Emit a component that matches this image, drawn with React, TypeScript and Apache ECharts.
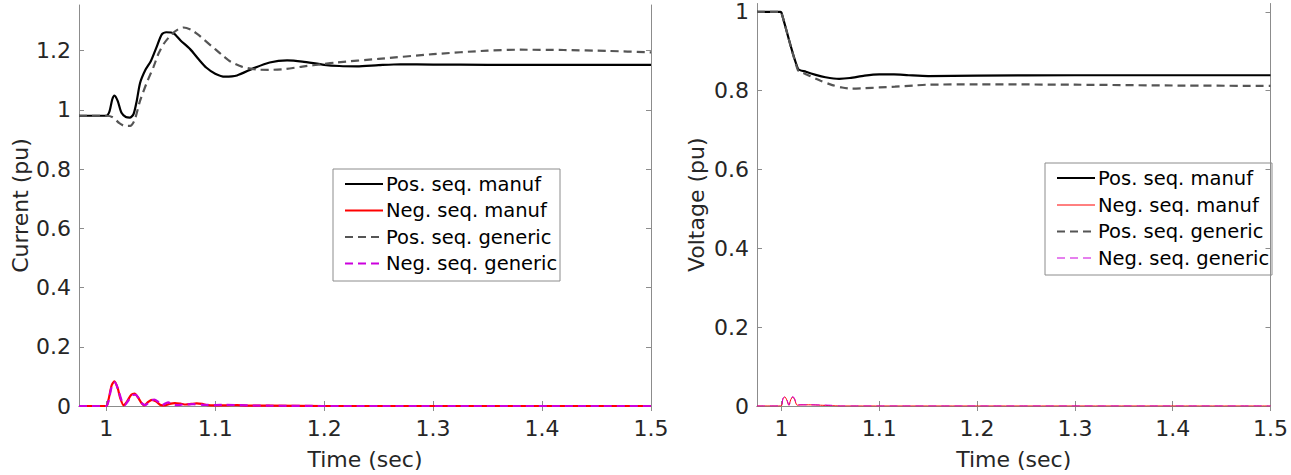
import React, { useEffect, useRef } from "react";
import * as echarts from "echarts";

// ---------- data ----------
const xTicks = [1, 1.1, 1.2, 1.3, 1.4, 1.5];
const yTicksCurrent = [0, 0.2, 0.4, 0.6, 0.8, 1, 1.2];
const yTicksVoltage = [0, 0.2, 0.4, 0.6, 0.8, 1];
const legendNames = ["Pos. seq. manuf", "Neg. seq. manuf", "Pos. seq. generic", "Neg. seq. generic"];

// Current plot
const curPosManufT = [0.975, 1.0, 1.003, 1.0055, 1.0076, 1.0105, 1.014, 1.018, 1.0216, 1.025, 1.028, 1.031, 1.036, 1.041, 1.046, 1.051, 1.055, 1.062, 1.068, 1.077, 1.085, 1.092, 1.1, 1.109, 1.12, 1.135, 1.15, 1.166, 1.18, 1.2, 1.214, 1.23, 1.25, 1.27, 1.3, 1.35, 1.4, 1.45, 1.5];
const curPosManufV = [0.98, 0.98, 0.995, 1.035, 1.048, 1.03, 0.99, 0.976, 0.974, 0.985, 1.03, 1.09, 1.135, 1.165, 1.21, 1.255, 1.262, 1.258, 1.235, 1.205, 1.17, 1.142, 1.122, 1.112, 1.116, 1.14, 1.16, 1.167, 1.163, 1.152, 1.148, 1.147, 1.151, 1.154, 1.153, 1.152, 1.152, 1.152, 1.152];

const curPosGenT = [0.975, 1.0, 1.006, 1.012, 1.017, 1.022, 1.026, 1.031, 1.037, 1.0435, 1.048, 1.053, 1.06, 1.066, 1.071, 1.078, 1.085, 1.09, 1.1, 1.108, 1.114, 1.125, 1.138, 1.15, 1.165, 1.18, 1.2, 1.211, 1.25, 1.3, 1.35, 1.38, 1.42, 1.46, 1.5];
const curPosGenV = [0.98, 0.98, 0.975, 0.955, 0.946, 0.946, 0.965, 1.03, 1.09, 1.146, 1.19, 1.224, 1.255, 1.272, 1.278, 1.27, 1.252, 1.236, 1.205, 1.18, 1.163, 1.145, 1.136, 1.135, 1.138, 1.146, 1.155, 1.16, 1.172, 1.188, 1.2, 1.203, 1.202, 1.199, 1.194];

const curNegManufT = [0.975, 1.0, 1.002, 1.005, 1.0075, 1.0105, 1.013, 1.016, 1.019, 1.023, 1.026, 1.029, 1.032, 1.035, 1.038, 1.042, 1.046, 1.05, 1.054, 1.058, 1.063, 1.068, 1.073, 1.078, 1.083, 1.088, 1.093, 1.1, 1.11, 1.12, 1.13, 1.15, 1.2, 1.5];
const curNegManufV = [0, 0, 0.02, 0.07, 0.083, 0.06, 0.025, 0.002, 0.015, 0.038, 0.042, 0.03, 0.012, 0.002, 0.012, 0.021, 0.015, 0.003, 0.002, 0.007, 0.01, 0.008, 0.005, 0.007, 0.009, 0.007, 0.003, 0.002, 0.002, 0.003, 0.001, 0.001, 0, 0];

const curNegGenT = [0.975, 1.0, 1.002, 1.005, 1.008, 1.011, 1.014, 1.017, 1.02, 1.024, 1.027, 1.03, 1.033, 1.036, 1.04, 1.044, 1.048, 1.051, 1.054, 1.057, 1.06, 1.065, 1.07, 1.08, 1.09, 1.1, 1.11, 1.13, 1.15, 1.2, 1.5];
const curNegGenV = [0, 0, 0.015, 0.065, 0.08, 0.055, 0.02, 0.003, 0.017, 0.037, 0.038, 0.025, 0.008, 0.003, 0.015, 0.022, 0.013, 0.003, 0.008, 0.012, 0.006, 0.003, 0.005, 0.006, 0.004, 0.003, 0.004, 0.002, 0.001, 0, 0];

// Voltage plot
const volPosManufT = [0.975, 0.999, 1.0, 1.0168, 1.025, 1.035, 1.045, 1.059, 1.07, 1.085, 1.1, 1.115, 1.13, 1.15, 1.2, 1.3, 1.4, 1.5];
const volPosManufV = [1.0, 1.0, 0.998, 0.856, 0.848, 0.84, 0.834, 0.83, 0.832, 0.838, 0.841, 0.841, 0.839, 0.837, 0.838, 0.839, 0.839, 0.839];

const volPosGenT = [0.975, 0.999, 1.0, 1.0168, 1.022, 1.029, 1.04, 1.052, 1.062, 1.072, 1.085, 1.1, 1.116, 1.135, 1.149, 1.2, 1.3, 1.4, 1.5];
const volPosGenV = [1.0, 1.0, 0.998, 0.852, 0.845, 0.837, 0.825, 0.814, 0.808, 0.805, 0.806, 0.808, 0.81, 0.813, 0.815, 0.816, 0.815, 0.813, 0.812];

const volNegManufT = [0.975, 0.9995, 1.0015, 1.0035, 1.0055, 1.0075, 1.0095, 1.0115, 1.0135, 1.016, 1.02, 1.03, 1.04, 1.05, 1.06, 1.5];
const volNegManufV = [0, 0, 0.018, 0.023, 0.015, 0.002, 0.016, 0.023, 0.016, 0.002, 0.003, 0.003, 0.002, 0.001, 0, 0];

const volNegGenT = [0.975, 0.9995, 1.0015, 1.0033, 1.0055, 1.0078, 1.0098, 1.0117, 1.0138, 1.016, 1.03, 1.05, 1.06, 1.5];
const volNegGenV = [0, 0, 0.019, 0.024, 0.016, 0.002, 0.017, 0.024, 0.017, 0.003, 0.003, 0.002, 0, 0];

// ---------- styles ----------
const FONT = "DejaVu Sans";
const TEXT = "#262626";
const AXIS = "#8c8c8c";
const BLACK = "#000000";
const RED = "#ff0000";
const GRAY = "#555555";
const MAGENTA = "#cc00dd";
const DASH = [8, 5];

const pairs = (t: number[], v: number[]) => t.map((x, i) => [x, v[i]]);

function axesFor(gridIndex: number, yMax: number, yTicks: number[], yName: string, nameGapY: number) {
  const common = {
    type: "value",
    gridIndex,
    axisLine: { show: true, lineStyle: { color: AXIS, width: 1 } },
    splitLine: { show: false },
  };
  const xBottom = {
    ...common,
    min: 0.975,
    max: 1.5,
    position: "bottom",
    axisTick: { show: true, inside: true, length: 5, customValues: xTicks, lineStyle: { color: AXIS } },
    axisLabel: { show: true, customValues: xTicks, margin: 11, fontSize: 22, fontFamily: FONT, color: TEXT },
    name: "Time (sec)",
    nameLocation: "middle",
    nameGap: 42,
    nameTextStyle: { fontSize: 22, fontFamily: FONT, color: TEXT },
  };
  const xTop = {
    ...common,
    min: 0.975,
    max: 1.5,
    position: "top",
    axisTick: { show: true, inside: true, length: 5, customValues: xTicks, lineStyle: { color: AXIS } },
    axisLabel: { show: false },
  };
  const yLeft = {
    ...common,
    min: 0,
    max: yMax,
    position: "left",
    axisTick: { show: true, inside: true, length: 5, customValues: yTicks, lineStyle: { color: AXIS } },
    axisLabel: { show: true, customValues: yTicks, margin: 8, fontSize: 22, fontFamily: FONT, color: TEXT },
    name: yName,
    nameLocation: "middle",
    nameGap: nameGapY,
    nameRotate: 90,
    nameTextStyle: { fontSize: 22, fontFamily: FONT, color: TEXT },
  };
  const yRight = {
    ...common,
    min: 0,
    max: yMax,
    position: "right",
    axisTick: { show: true, inside: true, length: 5, customValues: yTicks, lineStyle: { color: AXIS } },
    axisLabel: { show: false },
  };
  return { x: [xBottom, xTop], y: [yLeft, yRight] };
}

function line(name: string, data: number[][], axis: number, color: string, width: number, dashed: boolean, z: number) {
  return {
    type: "line",
    name,
    data,
    xAxisIndex: axis,
    yAxisIndex: axis,
    showSymbol: false,
    symbol: "none",
    smooth: 0.25,
    z,
    lineStyle: { color, width, type: dashed ? DASH : "solid" },
    silent: true,
  };
}

function legendGraphic(x: number, y: number, rows: number[], widths: number[]) {
  const colors = [BLACK, RED, GRAY, MAGENTA];
  const dashes = [false, false, true, true];
  const children: any[] = [
    {
      type: "rect",
      shape: { x, y, width: 227, height: 112 },
      style: { fill: "#ffffff", stroke: AXIS, lineWidth: 1 },
    },
  ];
  rows.forEach((ry, i) => {
    children.push({
      type: "line",
      shape: { x1: x + 12, y1: ry, x2: x + 50, y2: ry },
      style: { stroke: colors[i], lineWidth: widths[i], lineDash: dashes[i] ? DASH : null },
    });
    children.push({
      type: "text",
      x: x + 53,
      y: ry,
      style: {
        text: legendNames[i],
        fontSize: 19.5,
        fontFamily: FONT,
        fill: "#000000",
        verticalAlign: "middle",
        align: "left",
      },
    });
  });
  return { type: "group", children, z: 100 };
}

export default function App() {
  const ref = useRef<HTMLDivElement>(null);
  useEffect(() => {
    if (!ref.current) return;
    const chart = echarts.init(ref.current, null, { renderer: "svg" });
    const a1 = axesFor(0, 1.354, yTicksCurrent, "Current (pu)", 48);
    const a2 = axesFor(1, 1.021, yTicksVoltage, "Voltage (pu)", 50);
    chart.setOption({
      animation: false,
      backgroundColor: "#ffffff",
      grid: [
        { left: 79, top: 5, width: 572, height: 402 },
        { left: 757, top: 3.5, width: 519, height: 405.5 },
      ],
      xAxis: [a1.x[0], a1.x[1], a2.x[0], a2.x[1]],
      yAxis: [a1.y[0], a1.y[1], a2.y[0], a2.y[1]],
      series: [
        line(legendNames[0], pairs(curPosManufT, curPosManufV), 0, BLACK, 2.2, false, 3),
        line(legendNames[1], pairs(curNegManufT, curNegManufV), 0, RED, 2.2, false, 4),
        line(legendNames[2], pairs(curPosGenT, curPosGenV), 0, GRAY, 2.2, true, 5),
        line(legendNames[3], pairs(curNegGenT, curNegGenV), 0, MAGENTA, 2.2, true, 6),
        line(legendNames[0], pairs(volPosManufT, volPosManufV), 2, BLACK, 2.2, false, 3),
        line(legendNames[1], pairs(volNegManufT, volNegManufV), 2, RED, 1, false, 4),
        line(legendNames[2], pairs(volPosGenT, volPosGenV), 2, GRAY, 2.2, true, 5),
        line(legendNames[3], pairs(volNegGenT, volNegGenV), 2, MAGENTA, 1, true, 6),
      ],
      graphic: [
        legendGraphic(333, 169, [184, 210.5, 237, 263.5], [2.2, 2.2, 2.2, 2.2]),
        legendGraphic(1045, 163, [178, 205, 231.5, 258], [2.2, 1, 2.2, 1]),
      ],
    });
    return () => chart.dispose();
  }, []);
  return (
    <div
      ref={ref}
      style={{ position: "absolute", left: 0, top: 0, width: 1291, height: 475 }}
    />
  );
}
